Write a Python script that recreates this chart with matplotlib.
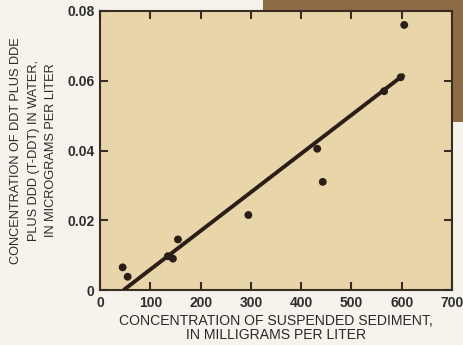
import matplotlib
matplotlib.use("Agg")
import matplotlib.pyplot as plt
from matplotlib.patches import Rectangle

# Suspended sediment (mg/L) vs. T-DDT in water (ug/L)
sediment = [45, 55, 135, 145, 155, 295, 432, 443, 565, 598, 605]
tddt = [0.0065, 0.0038, 0.0097, 0.0090, 0.0145, 0.0215, 0.0405, 0.0310, 0.0570, 0.0610, 0.0760]

# Fitted regression line end points
fit_x = [47, 605]
fit_y = [0.0, 0.0618]

x_ticks = [0, 100, 200, 300, 400, 500, 600, 700]
y_ticks = [0, 0.02, 0.04, 0.06, 0.08]
y_tick_labels = ["0", "0.02", "0.04", "0.06", "0.08"]

plt.rcParams["font.family"] = ["Liberation Sans", "DejaVu Sans"]

W, H = 464, 345
fig = plt.figure(figsize=(W / 100, H / 100), dpi=100)
fig.patch.set_facecolor("#f6f3ec")

# brown page block behind the upper-right corner
fig.patches.append(Rectangle((263 / W, 1 - 122 / H), 1 - 263 / W, 122 / H,
                             transform=fig.transFigure, facecolor="#8d6c45",
                             edgecolor="none", zorder=-1))

ax = fig.add_axes([100 / W, 1 - 290 / H, 352 / W, 279 / H])
ax.set_zorder(1)
ax.set_facecolor("#e8d6aa")

ink = "#2b1d17"
ax.plot(fit_x, fit_y, color=ink, lw=2.8, solid_capstyle="butt", zorder=3)
ax.scatter(sediment, tddt, s=32, color=ink, edgecolors="none", zorder=4)

ax.set_xlim(0, 700)
ax.set_ylim(0, 0.08)
ax.set_xticks(x_ticks)
ax.set_xticklabels([str(v) for v in x_ticks])
ax.set_yticks(y_ticks)
ax.set_yticklabels(y_tick_labels)

for s in ax.spines.values():
    s.set_color("#3a2c22")
    s.set_linewidth(1.5)

ax.tick_params(direction="in", length=6, width=1.5, color="#3a2c22",
               top=True, right=True, labelsize=10, labelcolor="#2e2e2e")
ax.tick_params(axis="x", pad=4)
ax.tick_params(axis="y", pad=4)
for lab in ax.get_xticklabels() + ax.get_yticklabels():
    lab.set_fontweight("bold")

ax.set_xlabel("CONCENTRATION OF SUSPENDED SEDIMENT,\nIN MILLIGRAMS PER LITER",
              fontsize=10.1, color="#2a2a2a", linespacing=1.05, labelpad=3)
ax.set_ylabel("CONCENTRATION OF DDT PLUS DDE\nPLUS DDD (T-DDT) IN WATER,\nIN MICROGRAMS PER LITER",
              fontsize=9.2, color="#2a2a2a", linespacing=1.65, labelpad=7)

fig.savefig("out.png", dpi=100, facecolor=fig.get_facecolor())
